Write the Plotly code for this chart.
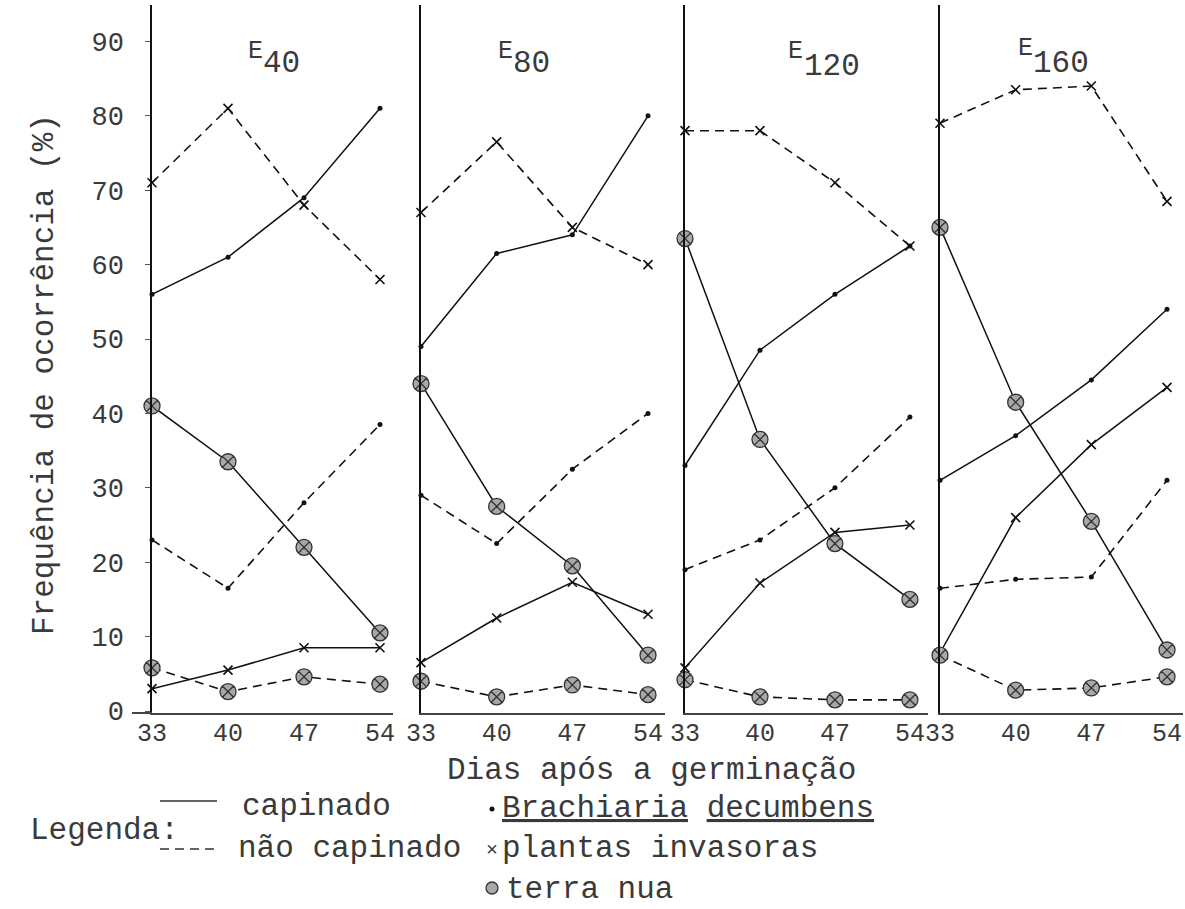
import plotly.graph_objects as go

# ---------------- data ----------------
days = [33, 40, 47, 54]
panel_labels = ["40", "80", "120", "160"]
y_ticks = [0, 10, 20, 30, 40, 50, 60, 70, 80, 90]

# Brachiaria decumbens
brach_capinado = [[56, 61, 69, 81], [49, 61.5, 64, 80], [33, 48.5, 56, 62.5], [31, 37, 44.5, 54]]
brach_nao_capinado = [[23, 16.5, 28, 38.5], [29, 22.5, 32.5, 40], [19, 23, 30, 39.5], [16.5, 17.7, 18, 31]]
# plantas invasoras
inv_capinado = [[3, 5.5, 8.5, 8.5], [6.5, 12.5, 17.3, 13], [5.8, 17.2, 24, 25], [7.8, 26, 35.8, 43.5]]
inv_nao_capinado = [[71, 81, 68, 58], [67, 76.5, 65, 60], [78, 78, 71, 62.5], [79, 83.5, 84, 68.5]]
# terra nua
terra_capinado = [[41, 33.5, 22, 10.5], [44, 27.5, 19.5, 7.5], [63.5, 36.5, 22.5, 15], [65, 41.5, 25.5, 8.2]]
terra_nao_capinado = [[5.8, 2.6, 4.6, 3.6], [4, 1.9, 3.5, 2.2], [4.2, 1.9, 1.5, 1.5], [7.5, 2.8, 3.1, 4.6]]

# ---------------- layout geometry ----------------
W, H = 1185, 909
FONT = "Liberation Mono"
TXT = "#3a3a3a"
panel_left = [152, 421, 685, 940]
panel_ppu = [10.857, 10.81, 10.71, 10.81]
panel_right = [393, 665, 928, 1183]
y_bottom_px, y_top_px = 713, 5
ppu_y = 7.44
y0_px = 711


def px(x):
    return x / W


def py(y):
    return 1 - y / H


y_range = [(y0_px - y_bottom_px) / ppu_y, (y0_px - y_top_px) / ppu_y]

fig = go.Figure()

marker_dot = dict(symbol="circle", size=5, color="#111")
marker_x = dict(symbol="x-thin", size=9, color="#111", line=dict(width=1.6, color="#111"))
marker_terra = dict(symbol="circle-x", size=16, color="#a8a8a8", line=dict(width=1.3, color="#333"))
solid = dict(color="#111", width=1.5)
dashed = dict(color="#111", width=1.6, dash="9px,6px")

series = [
    (brach_capinado, solid, marker_dot),
    (brach_nao_capinado, dashed, marker_dot),
    (inv_capinado, solid, marker_x),
    (inv_nao_capinado, dashed, marker_x),
    (terra_capinado, solid, marker_terra),
    (terra_nao_capinado, dashed, marker_terra),
]

for i in range(4):
    xa = "x" if i == 0 else f"x{i+1}"
    ya = "y" if i == 0 else f"y{i+1}"
    for vals, line, mk in series:
        fig.add_trace(go.Scatter(
            x=days, y=vals[i], mode="lines+markers", line=line, marker=mk,
            xaxis=xa, yaxis=ya, cliponaxis=False, showlegend=False, hoverinfo="skip"))

layout = dict(
    width=W, height=H, margin=dict(l=0, r=0, t=0, b=0, pad=0, autoexpand=False),
    paper_bgcolor="white", plot_bgcolor="white", showlegend=False,
    font=dict(family=FONT, color=TXT),
)

for i in range(4):
    sfx = "" if i == 0 else str(i + 1)
    xmax = 33 + (panel_right[i] - panel_left[i]) / panel_ppu[i]
    layout["xaxis" + sfx] = dict(
        domain=[px(panel_left[i]), px(panel_right[i])],
        range=[33, xmax], anchor="y" + sfx, automargin=False,
        tickvals=days, ticktext=[str(d) for d in days],
        showgrid=False, zeroline=False, showline=True, linecolor="#444", linewidth=2,
        ticks="", ticklabelstandoff=-4, tickfont=dict(family=FONT, size=25, color=TXT),
    )
    layout["yaxis" + sfx] = dict(
        domain=[py(y_bottom_px), py(y_top_px)], range=y_range,
        anchor="x" + sfx, showgrid=False, zeroline=False, automargin=False,
        showline=True, linecolor="#111", linewidth=1.5,
        tickvals=y_ticks if i == 0 else [],
        showticklabels=(i == 0),
        ticks="outside" if i == 0 else "", ticklen=5, tickcolor="#555",
        ticklabelstandoff=16,
        tickfont=dict(family=FONT, size=27, color=TXT),
    )

fig.update_layout(**layout)

ann = []


def add_text(text, x, y, size, xanchor="center", angle=0):
    ann.append(dict(text=text, x=px(x), y=py(y), xref="paper", yref="paper",
                    xanchor=xanchor, yanchor="middle", textangle=angle, showarrow=False,
                    font=dict(family=FONT, size=size, color=TXT)))


# panel titles E40 ...
e_pos = [(255, 52), (505, 51), (795, 52), (1025, 49)]
n_pos = [(281, 63), (531, 63), (832, 67), (1061, 63)]
for i in range(4):
    add_text("E", e_pos[i][0], e_pos[i][1], 25)
    add_text(panel_labels[i], n_pos[i][0], n_pos[i][1], 31)

# axis titles
add_text("Frequência de ocorrência (%)", 44, 375, 31, angle=-90)
add_text("Dias após a germinação", 651, 770, 31)

# legend texts
add_text("Legenda:", 28, 830, 31, xanchor="left")
add_text("capinado", 240, 806, 31, xanchor="left")
add_text("não capinado", 236, 848, 31, xanchor="left")
add_text("<u>Brachiaria</u> <u>decumbens</u>", 500, 808, 31, xanchor="left")
add_text("plantas invasoras", 500, 848, 31, xanchor="left")
add_text("terra nua", 504, 889, 31, xanchor="left")
add_text("×", 492, 850, 20)
fig.update_layout(annotations=ann)

shapes = [
    dict(type="line", xref="paper", yref="paper", x0=px(160), x1=px(217), y0=py(801), y1=py(801),
         line=dict(color="#333", width=1.5)),
    dict(type="line", xref="paper", yref="paper", x0=px(160), x1=px(217), y0=py(849), y1=py(849),
         line=dict(color="#333", width=1.5, dash="9px,6px")),
    dict(type="circle", xref="paper", yref="paper", x0=px(489.5), x1=px(494.5), y0=py(806.5), y1=py(811.5),
         fillcolor="#111", line=dict(color="#111", width=0)),
    dict(type="circle", xref="paper", yref="paper", x0=px(486), x1=px(498), y0=py(882), y1=py(894),
         fillcolor="#a8a8a8", line=dict(color="#333", width=1.3)),
    # extension of the base line to the left of the first panel
    dict(type="line", xref="paper", yref="paper", x0=px(132), x1=px(152), y0=py(713), y1=py(713),
         line=dict(color="#444", width=2)),
]
fig.update_layout(shapes=shapes)

fig.write_html("out.html", config={"displayModeBar": False},
               post_script="document.body.style.margin='0';document.body.style.overflow='hidden';")
